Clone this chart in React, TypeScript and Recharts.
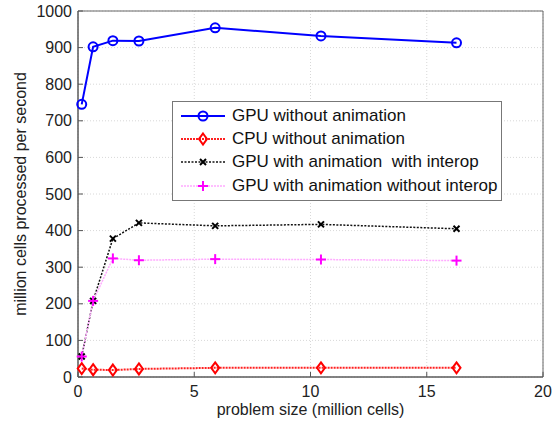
import {
  CartesianGrid,
  Legend,
  Line,
  LineChart,
  ReferenceArea,
  XAxis,
  YAxis,
} from "recharts";

// problem size (million cells)
const sizes = [0.16, 0.65, 1.5, 2.62, 5.9, 10.45, 16.28];

const gpuNoAnim = [745, 902, 919, 918, 954, 932, 913];
const cpuNoAnim = [23, 20, 19, 22, 25, 25, 25];
const gpuAnimInterop = [56, 208, 378, 421, 413, 417, 405];
const gpuAnimNoInterop = [56, 208, 324, 319, 322, 321, 318];

const xTicks = [0, 5, 10, 15, 20];
const yTicks = [0, 100, 200, 300, 400, 500, 600, 700, 800, 900, 1000];

const FONT = "'Liberation Sans', Arial, Helvetica, sans-serif";

type Shape = "circle" | "diamond" | "x" | "plus";

const series: {
  key: string;
  name: string;
  line: string;
  mark: string;
  width: number;
  dash?: string;
  shape: Shape;
}[] = [
  { key: "gpu", name: "GPU without animation", line: "#0000ff", mark: "#0000ff", width: 2, shape: "circle" },
  { key: "cpu", name: "CPU without animation", line: "#ff2020", mark: "#ff0000", width: 2, dash: "2 1", shape: "diamond" },
  { key: "gpuI", name: "GPU with animation  with interop", line: "#111111", mark: "#000000", width: 1.5, dash: "2 1.5", shape: "x" },
  { key: "gpuN", name: "GPU with animation without interop", line: "#ffaaff", mark: "#ff00ff", width: 1.5, dash: "2 1", shape: "plus" },
];

const dados = sizes.map((s, i) => ({
  size: s,
  gpu: gpuNoAnim[i],
  cpu: cpuNoAnim[i],
  gpuI: gpuAnimInterop[i],
  gpuN: gpuAnimNoInterop[i],
}));

function marker(shape: Shape, cx: number, cy: number, color: string, k?: string | number) {
  switch (shape) {
    case "circle":
      return <circle key={k} cx={cx} cy={cy} r={4.5} fill="none" stroke={color} strokeWidth={2} />;
    case "diamond":
      return (
        <polygon
          key={k}
          points={`${cx},${cy - 5.5} ${cx + 4},${cy} ${cx},${cy + 5.5} ${cx - 4},${cy}`}
          fill="none"
          stroke={color}
          strokeWidth={2}
        />
      );
    case "x":
      return (
        <g key={k} stroke={color} strokeWidth={2}>
          <line x1={cx - 3} y1={cy - 3} x2={cx + 3} y2={cy + 3} />
          <line x1={cx - 3} y1={cy + 3} x2={cx + 3} y2={cy - 3} />
        </g>
      );
    default:
      return (
        <g key={k} stroke={color} strokeWidth={2}>
          <line x1={cx - 5} y1={cy} x2={cx + 5} y2={cy} />
          <line x1={cx} y1={cy - 5} x2={cx} y2={cy + 5} />
        </g>
      );
  }
}

const LegendBox = () => (
  <div
    style={{
      border: "1px solid #777",
      background: "#fff",
      width: 328,
      padding: "2px 0 3px 0",
      fontFamily: FONT,
      fontSize: 17,
      color: "#111",
      textAlign: "left",
    }}
  >
    {series.map((s) => (
      <div key={s.key} style={{ display: "flex", alignItems: "center", height: 23.3 }}>
        <svg width={54} height={20} style={{ marginLeft: 4 }}>
          <line x1={4} y1={10} x2={48} y2={10} stroke={s.line} strokeWidth={s.width} strokeDasharray={s.dash} />
          {marker(s.shape, 26, 10, s.mark)}
        </svg>
        <span style={{ marginLeft: 1, whiteSpace: "pre" }}>{s.name}</span>
      </div>
    ))}
  </div>
);

const labelStyle = { fill: "#222", fontSize: 16, fontFamily: FONT };

export default function App() {
  return (
    <div style={{ position: "absolute", left: 0, top: 0, background: "#fff" }}>
      <LineChart width={557} height={423} data={dados} margin={{ top: 11, right: 14, bottom: 0, left: 0 }}>
        <CartesianGrid stroke="#d8d8d8" strokeDasharray="1 2" />
        <XAxis
          dataKey="size"
          type="number"
          domain={[0, 20]}
          ticks={xTicks}
          height={46}
          stroke="#555"
          tickSize={-5}
          tickMargin={14}
          tick={{ fill: "#222", fontSize: 16, fontFamily: FONT }}
          label={{
            content: ({ viewBox }: any) => (
              <text x={viewBox.x + viewBox.width / 2} y={415} textAnchor="middle" style={labelStyle}>
                problem size (million cells)
              </text>
            ),
          }}
        />
        <YAxis
          type="number"
          domain={[0, 1000]}
          ticks={yTicks}
          width={78}
          stroke="#555"
          tickSize={-5}
          tickMargin={11}
          tick={{ fill: "#222", fontSize: 16, fontFamily: FONT }}
          label={{
            content: ({ viewBox }: any) => {
              const x = 26;
              const y = viewBox.y + viewBox.height / 2;
              return (
                <text x={x} y={y} transform={`rotate(-90, ${x}, ${y})`} textAnchor="middle" style={labelStyle}>
                  million cells processed per second
                </text>
              );
            },
          }}
        />
        <ReferenceArea x1={0} x2={20} y1={0} y2={1000} fill="none" stroke="#666" strokeWidth={1} />
        {series.map((s) => (
          <Line
            key={s.key}
            dataKey={s.key}
            name={s.name}
            type="linear"
            stroke={s.line}
            strokeWidth={s.width}
            strokeDasharray={s.dash}
            isAnimationActive={false}
            dot={(p: any) => marker(s.shape, p.cx, p.cy, s.mark, p.index)}
            activeDot={false}
          />
        ))}
        <Legend
          layout="horizontal"
          verticalAlign="middle"
          align="center"
          content={<LegendBox />}
          wrapperStyle={{ position: "absolute", left: 172, top: 101, width: 330 }}
        />
      </LineChart>
    </div>
  );
}
